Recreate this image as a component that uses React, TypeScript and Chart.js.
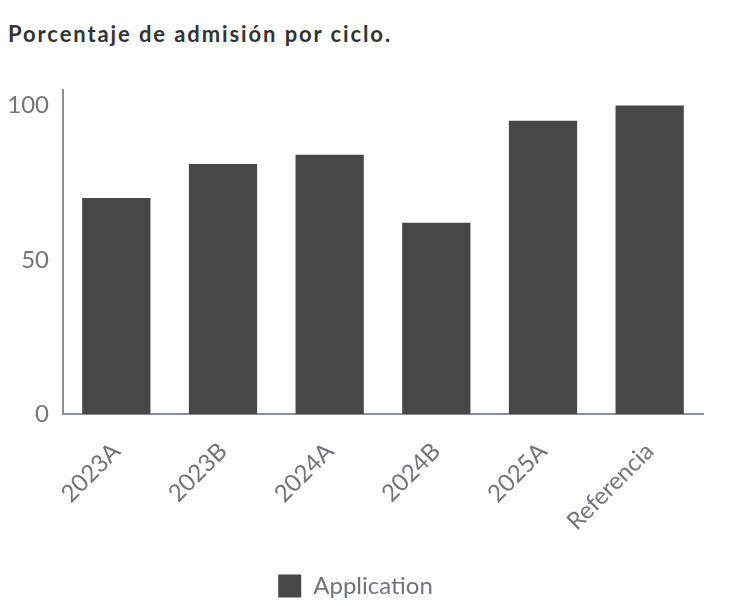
import React, { useEffect, useRef } from "react";
import { Chart, registerables } from "chart.js";

Chart.register(...registerables);

const categories = ["2023A", "2023B", "2024A", "2024B", "2025A", "Referencia"];
const admissionValues = [70, 81, 84, 62, 95, 100];
const yTicks = [0, 50, 100];
const seriesLabel = "Application";
const titleText = "Porcentaje de admisión por ciclo.";

export default function App() {
  const ref = useRef<HTMLCanvasElement | null>(null);
  useEffect(() => {
    if (!ref.current) return;
    const chart = new Chart(ref.current, {
      type: "bar",
      data: {
        labels: categories,
        datasets: [
          {
            label: seriesLabel,
            data: admissionValues,
            backgroundColor: "#474747",
            borderWidth: 0,
            barPercentage: 0.8,
            categoryPercentage: 0.8,
          },
        ],
      },
      options: {
        responsive: true,
        maintainAspectRatio: false,
        animation: false,
        layout: { padding: { left: 0, right: 18, top: 43, bottom: 0 } },
        plugins: {
          title: { display: false },
          legend: {
            position: "bottom",
            labels: {
              color: "#70757d",
              font: { family: "Lato", size: 24 },
              boxWidth: 23,
              boxHeight: 23,
              padding: 8,
            },
          },
          tooltip: { enabled: false },
        },
        scales: {
          x: {
            grid: { display: false, drawTicks: false },
            border: { color: "#8a9099", width: 2 },
            ticks: {
              color: "#70757d",
              font: { family: "Lato", size: 24 },
              maxRotation: 45,
              minRotation: 45,
              padding: 23,
            },
            afterFit: (scale: any) => {
              scale.height += 7;
              scale.paddingLeft = 0;
            },
          },
          y: {
            min: 0,
            max: 105,
            afterBuildTicks: (axis: any) => {
              axis.ticks = yTicks.map((v) => ({ value: v }));
            },
            afterFit: (scale: any) => {
              scale.width = 55;
            },
            grid: { display: false, drawTicks: false },
            border: { color: "#8a9099", width: 2 },
            ticks: {
              color: "#70757d",
              font: { family: "Lato", size: 24 },
              padding: 14,
            },
          },
        },
      },
    });
    return () => chart.destroy();
  }, []);
  return (
    <div style={{ width: "713px" }}>
      <div
        style={{
          fontFamily: "Lato",
          fontWeight: "bold",
          fontSize: "22px",
          letterSpacing: "1.9px",
          color: "#333333",
          lineHeight: "26px",
          paddingTop: "13px",
          height: "26px",
        }}
      >
        {titleText}
      </div>
      <div style={{ position: "relative", width: "713px", height: "561px" }}>
        <canvas ref={ref} />
      </div>
    </div>
  );
}
